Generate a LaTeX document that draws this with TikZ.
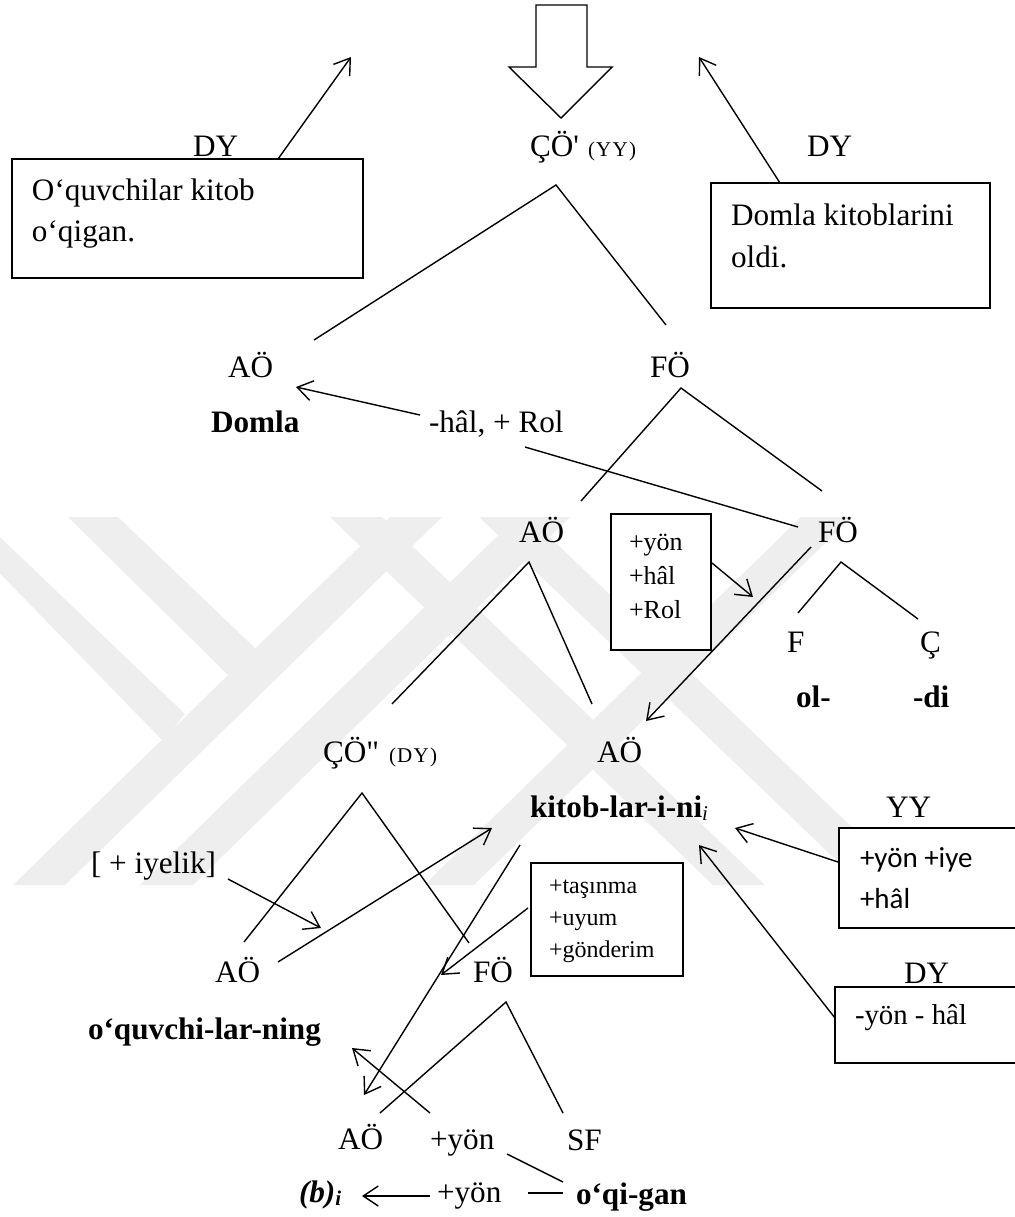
\documentclass[tikz,border=0pt]{standalone}
\usepackage{fontspec}
\setmainfont{Liberation Serif}[Ligatures=TeXOff]
\newfontfamily\calibrifont{Carlito}
\newfontfamily\spacedfont{Liberation Serif}[Ligatures=TeXOff,LetterSpace=6]
\usetikzlibrary{arrows.meta}

\definecolor{wmark}{RGB}{238,238,238}

\begin{document}
\begin{tikzpicture}[x=0.5pt,y=-0.5pt,
  every node/.style={inner sep=0pt,outer sep=0pt},
  lbl/.style={anchor=base west,font=\fontsize{15.6}{18}\selectfont},
  bld/.style={anchor=base west,font=\fontsize{15.6}{18}\selectfont\bfseries},
  subtxt/.style={anchor=base west,font=\fontsize{10.5}{12}\spacedfont},
  featA/.style={anchor=base west,font=\fontsize{13}{15}\selectfont},
  featB/.style={anchor=base west,font=\fontsize{12}{14}\selectfont},
  featC/.style={anchor=base west,font=\fontsize{14.5}{17}\calibrifont},
  featD/.style={anchor=base west,font=\fontsize{14.4}{17}\selectfont},
  framebox/.style={draw,fill=white,line width=0.7pt},
  edge/.style={line width=0.7pt},
  move/.style={line width=0.7pt,-{Straight Barb[length=7.5pt,width=10pt,line width=0.7pt]}},
]
\useasboundingbox (0,0) rectangle (1014,1217);

% faint background emblem
\begin{scope}
  \clip (0,517) rectangle (1014,885);
  \fill[wmark] (390,517) -- (442,517) -- (65,885) -- (13,885) -- cycle;
  \fill[wmark] (68,517) -- (118,517) -- (257,650) -- (230,677) -- cycle;
  \fill[wmark] (-55,517) -- (-21,517) -- (185,714) -- (163,741) -- cycle;
  \fill[wmark] (517,517) -- (570,517) -- (193,885) -- (140,885) -- cycle;
  \fill[wmark] (801,517) -- (852,517) -- (474,885) -- (424,885) -- cycle;
  \fill[wmark] (330,517) -- (382,517) -- (765,885) -- (713,885) -- cycle;
  \fill[wmark] (479,517) -- (529,517) -- (912,885) -- (862,885) -- cycle;
\end{scope}

% hollow arrow at the top
\draw[edge,line join=miter] (536,5) -- (587,5) -- (587,67) -- (612,67) -- (561,118)
  -- (509,67) -- (536,67) -- cycle;

% framed boxes
\node[framebox,anchor=north west,minimum width=175.5pt,minimum height=59.5pt] (boxL) at (12,159) {};
\node[framebox,anchor=north west,minimum width=139.5pt,minimum height=62.5pt] (boxR) at (711,183) {};
\node[framebox,anchor=north west,minimum width=50pt,minimum height=68pt] (boxF) at (611,514) {};
\node[framebox,anchor=north west,minimum width=76pt,minimum height=56.5pt] (boxT) at (531,863) {};
\node[framebox,anchor=north west,minimum width=95pt,minimum height=50pt] (boxYY) at (839,828) {};
\node[framebox,anchor=north west,minimum width=97pt,minimum height=38pt] (boxDY) at (835,987) {};

% labels
\node[lbl] (dyL) at (193,156) {DY};
\node[lbl] (cop) at (530,156) {ÇÖ'};
\node[subtxt] (copsub) at (588,156) {(YY)};
\node[lbl] (dyR) at (807,156) {DY};
\node[lbl] (ltA) at (32,200) {O‘quvchilar kitob};
\node[lbl] (ltB) at (32,241) {o‘qigan.};
\node[lbl] (rtA) at (731,225) {Domla kitoblarini};
\node[lbl] (rtB) at (731,267) {oldi.};
\node[lbl] (aoA) at (228,377) {AÖ};
\node[lbl] (foA) at (650,377) {FÖ};
\node[bld] (domla) at (211,432) {Domla};
\node[lbl] (halrol) at (429,432) {-hâl, + Rol};
\node[lbl] (aoB) at (519,542) {AÖ};
\node[lbl] (foB) at (818,542) {FÖ};
\node[featA] (fyon) at (629,550) {+yön};
\node[featA] (fhal) at (629,584) {+hâl};
\node[featA] (frol) at (629,618) {+Rol};
\node[lbl] (fF) at (787,652) {F};
\node[lbl] (fC) at (920,652) {Ç};
\node[bld] (olw) at (796,707) {ol-};
\node[bld] (diw) at (913,707) {-di};
\node[lbl] (coB) at (323,762) {ÇÖ"};
\node[subtxt] (coBsub) at (389,762) {(DY)};
\node[lbl] (aoC) at (597,762) {AÖ};
\node[bld] (kitob) at (530,817) {kitob-lar-i-ni\raisebox{-1.5pt}{\fontsize{10.5}{12}\selectfont\mdseries\itshape i}};
\node[lbl] (yyL) at (886,817) {YY};
\node[lbl] (iyelik) at (91,873) {[ + iyelik]};
\node[featC] (yyA) at (860,867) {+yön +iye};
\node[featC] (yyB) at (860,908) {+hâl};
\node[featB] (tA) at (549,893) {+taşınma};
\node[featB] (tB) at (549,925) {+uyum};
\node[featB] (tC) at (549,957) {+gönderim};
\node[lbl] (aoD) at (215,982) {AÖ};
\node[lbl] (foD) at (473,982) {FÖ};
\node[lbl] (dyD) at (904,983) {DY};
\node[featD] (yonhal) at (855,1024) {-yön - hâl};
\node[bld] (oquv) at (88,1039) {o‘quvchi-lar-ning};
\node[lbl] (aoE) at (338,1149) {AÖ};
\node[lbl] (yonA) at (430,1149) {+yön};
\node[lbl] (sf) at (567,1150) {SF};
\node[anchor=base west,font=\fontsize{15.6}{18}\selectfont\bfseries\itshape] (bi) at (299,1202)
  {(b)\raisebox{-1.5pt}{\fontsize{10.5}{12}\selectfont i}};
\node[lbl] (yonB) at (437,1202) {+yön};
\node[bld] (oqigan) at (576,1204) {o‘qi-gan};

% connector end points
\coordinate (pLa) at (278,159);   \coordinate (pLb) at (351,57);
\coordinate (pRa) at (780,183);   \coordinate (pRb) at (699,57);
\coordinate (t1) at (556,185);    \coordinate (t1a) at (314,340);  \coordinate (t1b) at (666,325);
\coordinate (hr1) at (420,415);   \coordinate (hr2) at (296,387);
\coordinate (t2) at (681,388);    \coordinate (t2a) at (581,501);  \coordinate (t2b) at (822,491);
\coordinate (rl1) at (525,447);   \coordinate (rl2) at (798,527);
\coordinate (bf1) at (712,563);   \coordinate (bf2) at (753,597);
\coordinate (fo1) at (811,547);   \coordinate (fo2) at (646,721);
\coordinate (t3) at (841,562);    \coordinate (t3a) at (798,613);  \coordinate (t3b) at (918,619);
\coordinate (t4) at (529,562);    \coordinate (t4a) at (392,704);  \coordinate (t4b) at (592,704);
\coordinate (t5) at (362,793);    \coordinate (t5a) at (244,942);  \coordinate (t5b) at (469,943);
\coordinate (iy1) at (228,879);   \coordinate (iy2) at (321,928);
\coordinate (ao1) at (278,962);   \coordinate (ao2) at (492,828);
\coordinate (ta1) at (528,908);   \coordinate (ta2) at (441,975);
\coordinate (kt1) at (520,845);   \coordinate (kt2) at (364,1095);
\coordinate (yy1) at (838,862);   \coordinate (yy2) at (735,828);
\coordinate (dy1) at (835,1018);  \coordinate (dy2) at (699,845);
\coordinate (t6) at (506,1002);   \coordinate (t6a) at (380,1113); \coordinate (t6b) at (563,1113);
\coordinate (yn1) at (430,1113);  \coordinate (yn2) at (352,1048);
\coordinate (og1) at (507,1154);  \coordinate (og2) at (563,1182);
\coordinate (bt1) at (430,1196);  \coordinate (bt2) at (362,1196);
\coordinate (dh1) at (528,1193);  \coordinate (dh2) at (563,1193);

% tree branches
\draw[edge] (t1a) -- (t1) -- (t1b);
\draw[edge] (t2a) -- (t2) -- (t2b);
\draw[edge] (t3a) -- (t3) -- (t3b);
\draw[edge] (t4a) -- (t4) -- (t4b);
\draw[edge] (t5a) -- (t5) -- (t5b);
\draw[edge] (t6a) -- (t6) -- (t6b);
\draw[edge] (rl1) -- (rl2);
\draw[edge] (og1) -- (og2);
\draw[edge] (dh1) -- (dh2);

% movement arrows
\draw[move] (pLa) -- (pLb);
\draw[move] (pRa) -- (pRb);
\draw[move] (hr1) -- (hr2);
\draw[move] (bf1) -- (bf2);
\draw[move] (fo1) -- (fo2);
\draw[move] (iy1) -- (iy2);
\draw[move] (ao1) -- (ao2);
\draw[move] (ta1) -- (ta2);
\draw[move] (kt1) -- (kt2);
\draw[move] (yy1) -- (yy2);
\draw[move] (dy1) -- (dy2);
\draw[move] (yn1) -- (yn2);
\draw[move] (bt1) -- (bt2);
\end{tikzpicture}
\end{document}
